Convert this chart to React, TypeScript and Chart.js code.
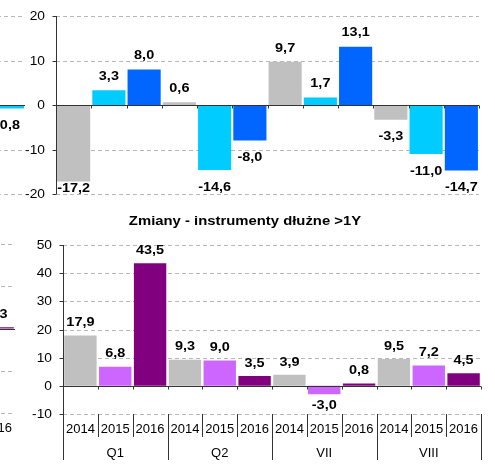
import React, { useEffect, useRef } from "react";
import { Chart, registerables } from "chart.js";

Chart.register(...registerables);

// ---------------- data ----------------
const yearLabels = ["2014", "2015", "2016", "2014", "2015", "2016", "2014", "2015", "2016", "2014", "2015", "2016"];
const groupLabels = ["Q1", "Q2", "VII", "VIII"];

const topValues = [-17.2, 3.3, 8.0, 0.6, -14.6, -8.0, 9.7, 1.7, 13.1, -3.3, -11.0, -14.7];
const topColors = ["#C0C0C0", "#00CCFF", "#0066FF"];
const topTicks = [-20, -10, 0, 10, 20];

const bottomTitle = "Zmiany - instrumenty dłużne >1Y";
const bottomValues = [17.9, 6.8, 43.5, 9.3, 9.0, 3.5, 3.9, -3.0, 0.8, 9.5, 7.2, 4.5];
const bottomColors = ["#C0C0C0", "#CC66FF", "#800080"];
const bottomTicks = [-10, 0, 10, 20, 30, 40, 50];

// fragments of the neighbouring charts, cut by the left edge of the picture
const leftTopLabels = ["2016"];
const leftTopValues = [-0.8];
const leftTopColors = ["#00CCFF"];
const leftTopTicks = [-20, -10, 0, 10, 20];

const leftBottomLabels = ["2016"];
const leftBottomValues = [0.3];
const leftBottomColors = ["#800080"];
const leftBottomTicks = [-20, -10, 0, 10, 20];

// ---------------- drawing helpers ----------------
const FONT = '"Liberation Sans", Arial, sans-serif';
const AXIS = "#333333";
const GRID = "#B8B8B8";

function txt(ctx: CanvasRenderingContext2D, s: string, x: number, y: number, size: number, bold: boolean, align: CanvasTextAlign, sx: number) {
  ctx.save();
  ctx.translate(x, y);
  ctx.scale(sx, 1);
  ctx.font = `${bold ? "bold " : ""}${size}px ${FONT}`;
  ctx.textAlign = align;
  ctx.textBaseline = "middle";
  ctx.fillStyle = "#000";
  ctx.fillText(s, 0, 0);
  ctx.restore();
}

function line(ctx: CanvasRenderingContext2D, x1: number, y1: number, x2: number, y2: number) {
  ctx.beginPath();
  ctx.moveTo(x1, y1);
  ctx.lineTo(x2, y2);
  ctx.stroke();
}

const fmt = (v: number) => v.toFixed(1).replace(".", ",");

type PanelProps = {
  box: number[]; // left, top, width, height
  pad: number[]; // left, top, right, bottom
  labels: string[];
  values: number[];
  colors: string[];
  ticks: number[];
  barPct: number;
  yAxis: boolean;
  catAxis: boolean;
  groups?: string[];
  groupSize: number;
  title?: string;
  titlePos?: number[];
  posOff: number;
  negOff: number;
};

function makePlugin(p: PanelProps) {
  return {
    id: "deco",
    beforeDatasetsDraw(chart: any) {
      const { ctx, chartArea: a, scales } = chart;
      const y = scales.y;
      ctx.save();
      ctx.strokeStyle = GRID;
      ctx.lineWidth = 1;
      ctx.setLineDash([4, 3]);
      for (const t of p.ticks) {
        if (t === 0) continue;
        const py = Math.round(y.getPixelForValue(t)) + 0.5;
        line(ctx, a.left, py, a.right, py);
      }
      ctx.restore();
    },
    afterDatasetsDraw(chart: any) {
      const { ctx, chartArea: a, scales } = chart;
      const y = scales.y;
      const n = p.values.length;
      const cw = (a.right - a.left) / n;
      ctx.save();
      ctx.strokeStyle = AXIS;
      ctx.lineWidth = 1;
      ctx.setLineDash([]);
      const y0 = Math.round(y.getPixelForValue(0)) + 0.5;
      line(ctx, a.left, y0, a.right, y0);
      for (let i = 0; i <= n; i++) {
        const bx = Math.round(a.left + i * cw) + 0.5;
        line(ctx, bx, y0, bx, y0 + 3);
      }
      if (p.yAxis) {
        const ax = Math.round(a.left) + 0.5;
        line(ctx, ax, a.top, ax, p.catAxis ? a.bottom + 46 : a.bottom);
        for (const t of p.ticks) {
          const ty = Math.round(y.getPixelForValue(t)) + 0.5;
          line(ctx, ax - 4, ty, ax, ty);
          txt(ctx, String(t), a.left - 11, ty, 13, false, "right", 1.06);
        }
      }
      if (p.catAxis) {
        for (let i = 0; i <= n; i++) {
          const bx = Math.round(a.left + i * cw) + 0.5;
          const long = i % p.groupSize === 0;
          line(ctx, bx, a.bottom, bx, a.bottom + (long ? 46 : 23));
        }
        for (let i = 0; i < n; i++) {
          txt(ctx, p.labels[i], a.left + (i + 0.5) * cw, a.bottom + 16, 12.5, false, "center", 1.04);
        }
        (p.groups || []).forEach((g, gi) => {
          const cx = a.left + (gi * p.groupSize + p.groupSize / 2) * cw;
          txt(ctx, g, cx, a.bottom + 40, 12.5, false, "center", 1.04);
        });
      }
      const meta = chart.getDatasetMeta(0);
      meta.data.forEach((bar: any, i: number) => {
        const v = p.values[i];
        let ly: number;
        if (v >= 0) ly = Math.max(bar.y - p.posOff, a.top + 5);
        else ly = Math.min(bar.y + p.negOff, a.bottom - 6);
        txt(ctx, fmt(v), bar.x, ly, 13.5, true, "center", 1.07);
      });
      if (p.title && p.titlePos) {
        txt(ctx, p.title, p.titlePos[0], p.titlePos[1], 13.5, true, "center", 1.1);
      }
      ctx.restore();
    },
  };
}

function Panel(p: PanelProps) {
  const ref = useRef<HTMLCanvasElement>(null);
  const [left, top, w, h] = p.box;
  useEffect(() => {
    const colors = p.values.map((_, i) => p.colors[i % p.colors.length]);
    const chart = new Chart(ref.current as HTMLCanvasElement, {
      type: "bar",
      data: {
        labels: p.labels,
        datasets: [
          {
            data: p.values,
            backgroundColor: colors,
            borderWidth: 0,
            barPercentage: p.barPct,
            categoryPercentage: 1,
          },
        ],
      },
      options: {
        responsive: false,
        animation: false,
        devicePixelRatio: 1,
        events: [],
        layout: { padding: { left: p.pad[0], top: p.pad[1], right: p.pad[2], bottom: p.pad[3] } },
        plugins: { legend: { display: false }, tooltip: { enabled: false }, title: { display: false } },
        scales: {
          x: { display: false },
          y: { display: false, min: p.ticks[0], max: p.ticks[p.ticks.length - 1] },
        },
      },
      plugins: [makePlugin(p)],
    } as any);
    return () => chart.destroy();
  }, []);
  return (
    <canvas
      ref={ref}
      width={w}
      height={h}
      style={{ position: "absolute", left, top, width: w, height: h }}
    />
  );
}

export default function App() {
  return (
    <div
      style={{
        position: "absolute",
        left: 0,
        top: 0,
        width: 495,
        height: 467,
        overflow: "hidden",
        background: "#fff",
      }}
    >
      <Panel
        box={[-10, 0, 35, 205]}
        pad={[0, 16, 0, 11]}
        labels={leftTopLabels}
        values={leftTopValues}
        colors={leftTopColors}
        ticks={leftTopTicks}
        barPct={0.94}
        yAxis={false}
        catAxis={false}
        groupSize={1}
        posOff={14}
        negOff={17}
      />
      <Panel
        box={[0, 0, 495, 205]}
        pad={[56, 16, 16, 11]}
        labels={yearLabels}
        values={topValues}
        colors={topColors}
        ticks={topTicks}
        barPct={0.94}
        yAxis={true}
        catAxis={false}
        groupSize={3}
        posOff={14}
        negOff={17}
      />
      <Panel
        box={[-20, 205, 35, 262]}
        pad={[0, 39, 0, 54]}
        labels={leftBottomLabels}
        values={leftBottomValues}
        colors={leftBottomColors}
        ticks={leftBottomTicks}
        barPct={0.93}
        yAxis={false}
        catAxis={true}
        groupSize={1}
        posOff={13}
        negOff={11}
      />
      <Panel
        box={[0, 205, 495, 262]}
        pad={[63, 40, 14, 53]}
        labels={yearLabels}
        values={bottomValues}
        colors={bottomColors}
        ticks={bottomTicks}
        barPct={0.93}
        yAxis={true}
        catAxis={true}
        groups={groupLabels}
        groupSize={3}
        title={bottomTitle}
        titlePos={[245, 16]}
        posOff={13}
        negOff={11}
      />
    </div>
  );
}
